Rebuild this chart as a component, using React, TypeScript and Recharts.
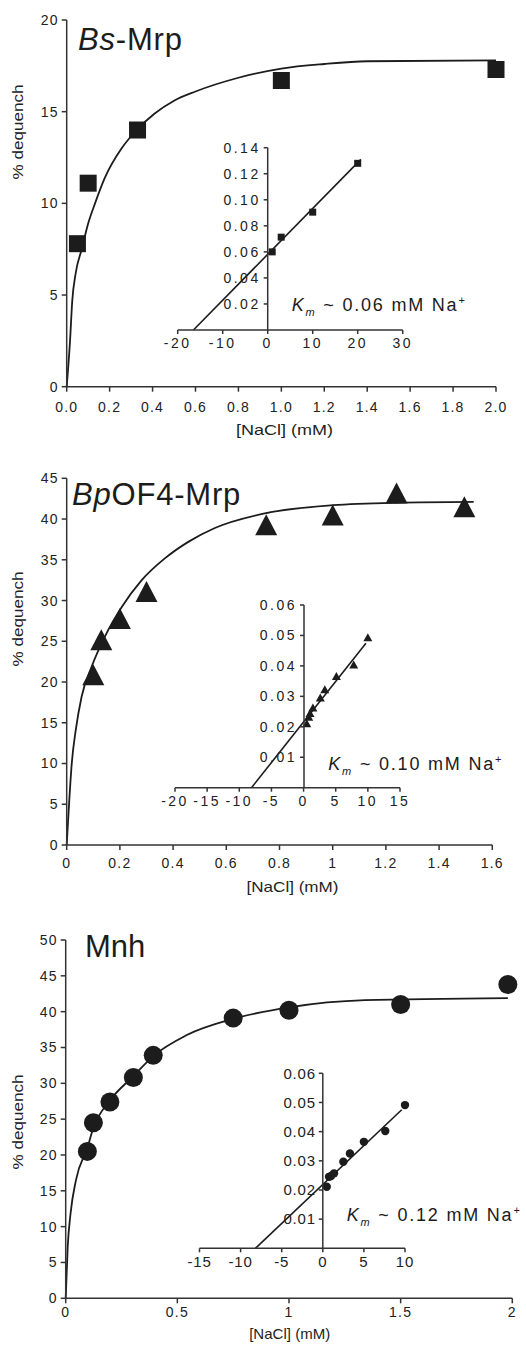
import React from "react";
import { ComposedChart, Line, Scatter, XAxis, YAxis } from "recharts";

// Bs-Mrp: [NaCl] (mM) vs % dequench
const bsNaCl = [0.05, 0.1, 0.33, 1.0, 2.0];
const bsDequench = [7.8, 11.1, 14.0, 16.7, 17.3];
const bsFitX = [0, 0.015, 0.026, 0.042, 0.07, 0.1, 0.132, 0.178, 0.256, 0.326, 0.41, 0.5, 0.6, 0.8, 1.0, 1.2, 1.4, 2.0];
const bsFitY = [0, 2.4, 4.7, 6.2, 7.5, 8.9, 10.0, 11.4, 13.0, 14.0, 14.9, 15.6, 16.1, 16.85, 17.35, 17.6, 17.75, 17.8];
// Bs-Mrp double reciprocal inset
const bsInvS = [1, 3, 10, 20];
const bsInvV = [0.06, 0.0713, 0.0905, 0.128];
const bsLbX = [-16.5, 20.7];
const bsLbY = [0, 0.131];

// BpOF4-Mrp
const bpNaCl = [0.1, 0.13, 0.2, 0.3, 0.75, 1.0, 1.24, 1.495];
const bpDequench = [20.9, 25.2, 27.8, 31.1, 39.3, 40.5, 43.2, 41.5];
const bpFitX = [0, 0.009, 0.019, 0.034, 0.056, 0.094, 0.144, 0.207, 0.282, 0.37, 0.457, 0.557, 0.745, 1.0, 1.24, 1.53];
const bpFitY = [0, 5.1, 10.0, 14.1, 18.2, 21.9, 25.6, 29.2, 32.5, 35.2, 37.2, 38.9, 40.7, 41.7, 42.0, 42.1];
const bpInvS = [0.5, 0.8, 1.0, 1.45, 2.6, 3.3, 5.1, 7.8, 10];
const bpInvV = [0.0212, 0.0233, 0.0245, 0.0263, 0.0296, 0.0323, 0.0367, 0.0405, 0.0494];
const bpLbX = [-8.1, 9.7];
const bpLbY = [0, 0.0474];

// Mnh
const mnNaCl = [0.097, 0.124, 0.198, 0.303, 0.392, 0.75, 1.0, 1.5, 1.98];
const mnDequench = [20.5, 24.5, 27.4, 30.8, 33.9, 39.1, 40.2, 41.0, 43.8];
const mnFitX = [0, 0.009, 0.022, 0.046, 0.097, 0.124, 0.198, 0.303, 0.392, 0.54, 0.75, 1.0, 1.34, 1.98];
const mnFitY = [0, 7.2, 11.9, 16.5, 21.0, 23.8, 27.6, 31.0, 33.8, 36.7, 39.0, 40.6, 41.6, 41.9];
const mnInvS = [0.48, 0.76, 1.0, 1.37, 2.5, 3.3, 5.0, 7.6, 10];
const mnInvV = [0.0211, 0.0245, 0.0248, 0.0257, 0.0297, 0.0325, 0.0365, 0.0402, 0.0491];
const mnLbX = [-8.2, 9.6];
const mnLbY = [0, 0.0475];

// ticks
const bsXTicks = [0, 0.2, 0.4, 0.6, 0.8, 1.0, 1.2, 1.4, 1.6, 1.8, 2.0];
const bsYTicks = [0, 5, 10, 15, 20];
const bpXTicks = [0, 0.2, 0.4, 0.6, 0.8, 1, 1.2, 1.4, 1.6];
const bpYTicks = [0, 5, 10, 15, 20, 25, 30, 35, 40, 45];
const mnXTicks = [0, 0.5, 1, 1.5, 2];
const mnYTicks = [0, 5, 10, 15, 20, 25, 30, 35, 40, 45, 50];
const bsInsetXTicks = [-20, -10, 0, 10, 20, 30];
const bsInsetYTicks = [0.02, 0.04, 0.06, 0.08, 0.1, 0.12, 0.14];
const bpInsetXTicks = [-20, -15, -10, -5, 0, 5, 10, 15];
const bpInsetYTicks = [0.01, 0.02, 0.03, 0.04, 0.05, 0.06];
const mnInsetXTicks = [-15, -10, -5, 0, 5, 10];
const mnInsetYTicks = [0.01, 0.02, 0.03, 0.04, 0.05, 0.06];

const FONT = "'Liberation Sans', Arial, Helvetica, sans-serif";
const INK = "#1c1c1c";
const AXIS = "#333";

const zip = (xs: number[], ys: number[]) => xs.map((x, i) => ({ x, y: ys[i] }));

const square = (s: number) => (p: any) =>
  p.cx == null ? <g /> : <rect x={p.cx - s / 2} y={p.cy - s / 2} width={s} height={s} fill={INK} />;
const triangle = (w: number, h: number) => (p: any) =>
  p.cx == null ? <g /> : (
    <polygon
      points={`${p.cx},${p.cy - h / 2} ${p.cx - w / 2},${p.cy + h / 2} ${p.cx + w / 2},${p.cy + h / 2}`}
      fill={INK}
    />
  );
const dot = (r: number) => (p: any) =>
  p.cx == null ? <g /> : <circle cx={p.cx} cy={p.cy} r={r} fill={INK} />;

function MainPanel(props: any) {
  const { top, height, margin, xDomain, xTicks, xFmt, yDomain, yTicks, points, fit, shape, xTickMargin } = props;
  return (
    <div style={{ position: "absolute", left: 0, top }}>
      <ComposedChart width={526} height={height} margin={margin}>
        <XAxis
          type="number"
          dataKey="x"
          domain={xDomain}
          ticks={xTicks}
          tickFormatter={xFmt}
          height={30}
          tickSize={5}
          tickMargin={xTickMargin}
          stroke={AXIS}
          strokeWidth={1.5}
          tick={{ fontSize: 14, fill: "#222", letterSpacing: 1.2 }}
        />
        <YAxis
          type="number"
          dataKey="y"
          domain={yDomain}
          ticks={yTicks}
          width={50}
          tickSize={5}
          tickMargin={3}
          stroke={AXIS}
          strokeWidth={1.5}
          tick={{ fontSize: 14, fill: "#222", letterSpacing: 1.2 }}
        />
        <Line data={fit} dataKey="y" type="monotone" stroke={INK} strokeWidth={1.8} dot={false} isAnimationActive={false} />
        <Scatter data={points} dataKey="y" shape={shape} isAnimationActive={false} />
      </ComposedChart>
    </div>
  );
}

function Inset(props: any) {
  const { a, b, xDomain, xTicks, yDomain, yTicks, points, fit, shape, tickFont, tickSpacing } = props;
  const tickStyle = { fontSize: tickFont, fill: "#222", letterSpacing: tickSpacing };
  return (
    <>
      <div style={{ position: "absolute", left: a.left, top: a.top }}>
        <ComposedChart width={a.width} height={a.height} margin={a.margin}>
          <XAxis
            type="number"
            dataKey="x"
            domain={xDomain}
            ticks={xTicks}
            height={25}
            tickSize={4}
            tickMargin={4}
            stroke={AXIS}
            strokeWidth={1.5}
            tick={tickStyle}
          />
          <YAxis type="number" dataKey="y" domain={yDomain} hide />
          <Line data={fit} dataKey="y" type="linear" stroke={INK} strokeWidth={1.6} dot={false} isAnimationActive={false} />
          <Scatter data={points} dataKey="y" shape={shape} isAnimationActive={false} />
        </ComposedChart>
      </div>
      <div style={{ position: "absolute", left: b.left, top: a.top }}>
        <ComposedChart width={b.width} height={a.height} margin={b.margin}>
          <XAxis type="number" dataKey="x" domain={[0, 1]} hide />
          <YAxis
            type="number"
            dataKey="y"
            domain={yDomain}
            ticks={yTicks}
            tickFormatter={(v: number) => v.toFixed(2)}
            width={50}
            tickSize={4}
            tickMargin={3}
            stroke={AXIS}
            strokeWidth={1.5}
            tick={tickStyle}
          />
          <Scatter data={[{ x: 0, y: 0 }]} dataKey="y" shape={() => <g />} isAnimationActive={false} />
        </ComposedChart>
      </div>
    </>
  );
}

function KmNote({ x, y, value }: { x: number; y: number; value: string }) {
  return (
    <text x={x} y={y} fontSize={18} letterSpacing={1.8} fill={INK} style={{ whiteSpace: "pre" }}>
      <tspan fontStyle="italic">K</tspan>
      <tspan fontStyle="italic" fontSize={11} dy={5}>m</tspan>
      <tspan dy={-5}>{` ~ ${value} mM Na`}</tspan>
      <tspan fontSize={11} dy={-7}>+</tspan>
    </text>
  );
}

function YLabel({ cy }: { cy: number }) {
  return (
    <text x={23} y={cy} transform={`rotate(-90 23 ${cy})`} textAnchor="middle" fontSize={14} fill="#222"
      textLength={95} lengthAdjust="spacingAndGlyphs">
      % dequench
    </text>
  );
}

function XLabel({ cx, y, w }: { cx: number; y: number; w: number }) {
  return (
    <text x={cx - w / 2} y={y} fontSize={15} fill="#222" textLength={w} lengthAdjust="spacingAndGlyphs">
      [NaCl] (mM)
    </text>
  );
}

export default function App() {
  return (
    <div style={{ position: "absolute", left: 0, top: 0, width: 526, height: 1345, background: "#fff", fontFamily: FONT, overflow: "hidden" }}>
      <MainPanel
        top={0}
        height={440}
        margin={{ top: 20, left: 16.7, right: 30, bottom: 23.3 }}
        xDomain={[0, 2]}
        xTicks={bsXTicks}
        xFmt={(v: number) => v.toFixed(1)}
        yDomain={[0, 20]}
        yTicks={bsYTicks}
        points={zip(bsNaCl, bsDequench)}
        fit={zip(bsFitX, bsFitY)}
        shape={square(17)}
        xTickMargin={10}
      />
      <MainPanel
        top={440}
        height={440}
        margin={{ top: 38.3, left: 16.7, right: 33.7, bottom: 5 }}
        xDomain={[0, 1.6]}
        xTicks={bpXTicks}
        xFmt={(v: number) => String(v)}
        yDomain={[0, 45]}
        yTicks={bpYTicks}
        points={zip(bpNaCl, bpDequench)}
        fit={zip(bpFitX, bpFitY)}
        shape={triangle(22, 21)}
        xTickMargin={8}
      />
      <MainPanel
        top={880}
        height={465}
        margin={{ top: 60, left: 15.7, right: 13.7, bottom: 16.7 }}
        xDomain={[0, 2]}
        xTicks={mnXTicks}
        xFmt={(v: number) => String(v)}
        yDomain={[0, 50]}
        yTicks={mnYTicks}
        points={zip(mnNaCl, mnDequench)}
        fit={zip(mnFitX, mnFitY)}
        shape={dot(9.5)}
        xTickMargin={4}
      />

      <Inset
        a={{ left: 140, top: 130, width: 300, height: 240, margin: { top: 17.7, left: 37.7, right: 37.3, bottom: 15 } }}
        b={{ left: 200, width: 100, margin: { top: 17.7, left: 17.7, right: 12.3, bottom: 40 } }}
        xDomain={[-20, 30]}
        xTicks={bsInsetXTicks}
        yDomain={[0, 0.14]}
        yTicks={bsInsetYTicks}
        points={zip(bsInvS, bsInvV)}
        fit={zip(bsLbX, bsLbY)}
        shape={square(7)}
        tickFont={14}
        tickSpacing={2.5}
      />
      <Inset
        a={{ left: 140, top: 580, width: 300, height: 240, margin: { top: 25, left: 35, right: 40, bottom: 7.3 } }}
        b={{ left: 220, width: 110, margin: { top: 25, left: 34, right: 6, bottom: 32.3 } }}
        xDomain={[-20, 15]}
        xTicks={bpInsetXTicks}
        yDomain={[0, 0.06]}
        yTicks={bpInsetYTicks}
        points={zip(bpInvS, bpInvV)}
        fit={zip(bpLbX, bpLbY)}
        shape={triangle(9, 8)}
        tickFont={14}
        tickSpacing={2.5}
      />
      <Inset
        a={{ left: 150, top: 1050, width: 300, height: 240, margin: { top: 23.3, left: 49.5, right: 45, bottom: 16.7 } }}
        b={{ left: 240, width: 110, margin: { top: 23.3, left: 32.8, right: 7.2, bottom: 41.7 } }}
        xDomain={[-15, 10]}
        xTicks={mnInsetXTicks}
        yDomain={[0, 0.06]}
        yTicks={mnInsetYTicks}
        points={zip(mnInvS, mnInvV)}
        fit={zip(mnLbX, mnLbY)}
        shape={dot(4.2)}
        tickFont={15}
        tickSpacing={0.8}
      />

      <svg width={526} height={1345} style={{ position: "absolute", left: 0, top: 0, pointerEvents: "none" }} fontFamily={FONT}>
        <text x={78} y={50} fontSize={31} fill={INK} letterSpacing={0.8}>
          <tspan fontStyle="italic">Bs</tspan>-Mrp
        </text>
        <text x={72} y={505} fontSize={31} fill={INK} letterSpacing={0.8}>
          <tspan fontStyle="italic">Bp</tspan>OF4-Mrp
        </text>
        <text x={85} y={957} fontSize={31} fill={INK}>Mnh</text>

        <YLabel cy={132} />
        <YLabel cy={619} />
        <YLabel cy={1122} />

        <XLabel cx={284.5} y={435} w={97} />
        <XLabel cx={292.5} y={891.5} w={92} />
        <XLabel cx={289.7} y={1338.5} w={81} />

        <KmNote x={291.7} y={311} value="0.06" />
        <KmNote x={328.3} y={770} value="0.10" />
        <KmNote x={346.7} y={1220.5} value="0.12" />
      </svg>
    </div>
  );
}
